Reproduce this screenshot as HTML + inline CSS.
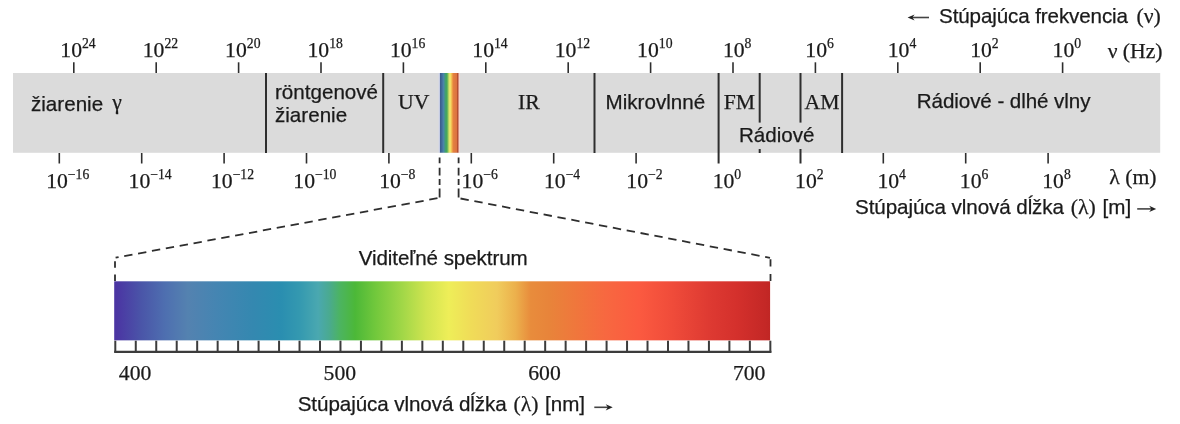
<!DOCTYPE html><html><head><meta charset="utf-8"><title>Elektromagnetické spektrum</title>
<style>html,body{margin:0;padding:0;background:#fff;}svg{display:block}.s{font-family:"Liberation Serif", serif;font-size:21.7px;fill:#1a1a1a;stroke:#1a1a1a;stroke-width:.25px}.a{font-family:"Liberation Sans", sans-serif;font-size:20.6px;fill:#1a1a1a;stroke:#1a1a1a;stroke-width:.25px}.u{font-size:13.7px}text,line,path{filter:blur(.45px)}</style></head><body>
<svg width="1180" height="424" viewBox="0 0 1180 424">
<defs><linearGradient id="g" x1="0" x2="1" y1="0" y2="0">
<stop offset="0.0000" stop-color="#4b34a2"/>
<stop offset="0.0046" stop-color="#4b36a3"/>
<stop offset="0.0412" stop-color="#4a55a8"/>
<stop offset="0.0777" stop-color="#4e6fb0"/>
<stop offset="0.1122" stop-color="#5482b0"/>
<stop offset="0.1549" stop-color="#4585b2"/>
<stop offset="0.2119" stop-color="#3488b0"/>
<stop offset="0.2546" stop-color="#2a8eb0"/>
<stop offset="0.2828" stop-color="#3499b0"/>
<stop offset="0.3110" stop-color="#4aa8b0"/>
<stop offset="0.3277" stop-color="#4aaa90"/>
<stop offset="0.3445" stop-color="#4cb460"/>
<stop offset="0.3674" stop-color="#4cb838"/>
<stop offset="0.3988" stop-color="#72c83c"/>
<stop offset="0.4415" stop-color="#a4d848"/>
<stop offset="0.4756" stop-color="#d0e450"/>
<stop offset="0.5098" stop-color="#eeee58"/>
<stop offset="0.5439" stop-color="#f0dc58"/>
<stop offset="0.5838" stop-color="#f0cc5c"/>
<stop offset="0.6122" stop-color="#ecb04c"/>
<stop offset="0.6349" stop-color="#e88c3c"/>
<stop offset="0.6631" stop-color="#e8843a"/>
<stop offset="0.7058" stop-color="#f0763c"/>
<stop offset="0.7485" stop-color="#f76840"/>
<stop offset="0.8003" stop-color="#fb5a40"/>
<stop offset="0.8491" stop-color="#f04c3a"/>
<stop offset="0.9070" stop-color="#de3a32"/>
<stop offset="0.9497" stop-color="#d4302c"/>
<stop offset="0.9924" stop-color="#c42826"/>
<stop offset="1.0000" stop-color="#c02624"/>
</linearGradient><linearGradient id="r" x1="0" x2="1" y1="0" y2="0"><stop offset="0.0000" stop-color="#3a5888"/><stop offset="0.0860" stop-color="#3f6898"/><stop offset="0.1935" stop-color="#4a84a8"/><stop offset="0.3011" stop-color="#40a070"/><stop offset="0.3817" stop-color="#48a858"/><stop offset="0.4624" stop-color="#b0d060"/><stop offset="0.5323" stop-color="#f0ea70"/><stop offset="0.5968" stop-color="#f4d860"/><stop offset="0.6505" stop-color="#f0a848"/><stop offset="0.7312" stop-color="#e48040"/><stop offset="0.8925" stop-color="#dc7440"/><stop offset="0.9355" stop-color="#b85030"/><stop offset="1.0000" stop-color="#b04830"/></linearGradient></defs>
<rect width="1180" height="424" fill="#fff"/>
<rect x="13" y="73" width="1147.2" height="79.8" fill="#dbdbdb"/>
<rect x="438.6" y="73" width="1.6" height="79.6" fill="#d4d8ec"/>
<rect x="458.3" y="73" width="1.7" height="79.6" fill="#f6d4cc"/>
<rect x="439.9" y="73" width="18.6" height="79.7" fill="url(#r)"/>
<line x1="266.0" y1="73.0" x2="266.0" y2="153.0" stroke="#2e2e2e" stroke-width="2.0"/>
<line x1="383.2" y1="73.0" x2="383.2" y2="153.0" stroke="#2e2e2e" stroke-width="2.0"/>
<line x1="594.5" y1="73.0" x2="594.5" y2="153.0" stroke="#2e2e2e" stroke-width="2.0"/>
<line x1="718.6" y1="73.0" x2="718.6" y2="163.5" stroke="#2e2e2e" stroke-width="2.0"/>
<line x1="759.7" y1="73.0" x2="759.7" y2="122.6" stroke="#2e2e2e" stroke-width="2.0"/>
<line x1="759.7" y1="149.0" x2="759.7" y2="153.0" stroke="#2e2e2e" stroke-width="2.0"/>
<line x1="800.5" y1="73.0" x2="800.5" y2="122.6" stroke="#2e2e2e" stroke-width="2.0"/>
<line x1="800.5" y1="149.0" x2="800.5" y2="163.5" stroke="#2e2e2e" stroke-width="2.0"/>
<line x1="842.1" y1="73.0" x2="842.1" y2="153.0" stroke="#2e2e2e" stroke-width="2.0"/>
<line x1="73.8" y1="62.3" x2="73.8" y2="73.0" stroke="#2e2e2e" stroke-width="1.6"/>
<text class="s" x="78.0" y="56.8" text-anchor="middle">10<tspan class="u" dy="-9.2">24</tspan></text>
<line x1="156.2" y1="62.3" x2="156.2" y2="73.0" stroke="#2e2e2e" stroke-width="1.6"/>
<text class="s" x="160.4" y="56.8" text-anchor="middle">10<tspan class="u" dy="-9.2">22</tspan></text>
<line x1="238.6" y1="62.3" x2="238.6" y2="73.0" stroke="#2e2e2e" stroke-width="1.6"/>
<text class="s" x="242.8" y="56.8" text-anchor="middle">10<tspan class="u" dy="-9.2">20</tspan></text>
<line x1="321.0" y1="62.3" x2="321.0" y2="73.0" stroke="#2e2e2e" stroke-width="1.6"/>
<text class="s" x="325.2" y="56.8" text-anchor="middle">10<tspan class="u" dy="-9.2">18</tspan></text>
<line x1="403.4" y1="62.3" x2="403.4" y2="73.0" stroke="#2e2e2e" stroke-width="1.6"/>
<text class="s" x="407.6" y="56.8" text-anchor="middle">10<tspan class="u" dy="-9.2">16</tspan></text>
<line x1="485.8" y1="62.3" x2="485.8" y2="73.0" stroke="#2e2e2e" stroke-width="1.6"/>
<text class="s" x="490.0" y="56.8" text-anchor="middle">10<tspan class="u" dy="-9.2">14</tspan></text>
<line x1="568.2" y1="62.3" x2="568.2" y2="73.0" stroke="#2e2e2e" stroke-width="1.6"/>
<text class="s" x="572.4" y="56.8" text-anchor="middle">10<tspan class="u" dy="-9.2">12</tspan></text>
<line x1="650.6" y1="62.3" x2="650.6" y2="73.0" stroke="#2e2e2e" stroke-width="1.6"/>
<text class="s" x="654.8" y="56.8" text-anchor="middle">10<tspan class="u" dy="-9.2">10</tspan></text>
<line x1="733.0" y1="62.3" x2="733.0" y2="73.0" stroke="#2e2e2e" stroke-width="1.6"/>
<text class="s" x="737.2" y="56.8" text-anchor="middle">10<tspan class="u" dy="-9.2">8</tspan></text>
<line x1="815.4" y1="62.3" x2="815.4" y2="73.0" stroke="#2e2e2e" stroke-width="1.6"/>
<text class="s" x="819.6" y="56.8" text-anchor="middle">10<tspan class="u" dy="-9.2">6</tspan></text>
<line x1="897.8" y1="62.3" x2="897.8" y2="73.0" stroke="#2e2e2e" stroke-width="1.6"/>
<text class="s" x="902.0" y="56.8" text-anchor="middle">10<tspan class="u" dy="-9.2">4</tspan></text>
<line x1="980.2" y1="62.3" x2="980.2" y2="73.0" stroke="#2e2e2e" stroke-width="1.6"/>
<text class="s" x="984.4" y="56.8" text-anchor="middle">10<tspan class="u" dy="-9.2">2</tspan></text>
<line x1="1062.6" y1="62.3" x2="1062.6" y2="73.0" stroke="#2e2e2e" stroke-width="1.6"/>
<text class="s" x="1066.8" y="56.8" text-anchor="middle">10<tspan class="u" dy="-9.2">0</tspan></text>
<line x1="59.3" y1="153.0" x2="59.3" y2="163.5" stroke="#2e2e2e" stroke-width="1.6"/>
<text class="s" x="67.7" y="188.1" text-anchor="middle">10<tspan class="u" dy="-9.3">−16</tspan></text>
<line x1="141.7" y1="153.0" x2="141.7" y2="163.5" stroke="#2e2e2e" stroke-width="1.6"/>
<text class="s" x="150.1" y="188.1" text-anchor="middle">10<tspan class="u" dy="-9.3">−14</tspan></text>
<line x1="224.1" y1="153.0" x2="224.1" y2="163.5" stroke="#2e2e2e" stroke-width="1.6"/>
<text class="s" x="232.5" y="188.1" text-anchor="middle">10<tspan class="u" dy="-9.3">−12</tspan></text>
<line x1="306.5" y1="153.0" x2="306.5" y2="163.5" stroke="#2e2e2e" stroke-width="1.6"/>
<text class="s" x="314.9" y="188.1" text-anchor="middle">10<tspan class="u" dy="-9.3">−10</tspan></text>
<line x1="388.9" y1="153.0" x2="388.9" y2="163.5" stroke="#2e2e2e" stroke-width="1.6"/>
<text class="s" x="397.3" y="188.1" text-anchor="middle">10<tspan class="u" dy="-9.3">−8</tspan></text>
<line x1="471.3" y1="153.0" x2="471.3" y2="163.5" stroke="#2e2e2e" stroke-width="1.6"/>
<text class="s" x="479.7" y="188.1" text-anchor="middle">10<tspan class="u" dy="-9.3">−6</tspan></text>
<line x1="553.7" y1="153.0" x2="553.7" y2="163.5" stroke="#2e2e2e" stroke-width="1.6"/>
<text class="s" x="562.1" y="188.1" text-anchor="middle">10<tspan class="u" dy="-9.3">−4</tspan></text>
<line x1="636.1" y1="153.0" x2="636.1" y2="163.5" stroke="#2e2e2e" stroke-width="1.6"/>
<text class="s" x="644.5" y="188.1" text-anchor="middle">10<tspan class="u" dy="-9.3">−2</tspan></text>
<text class="s" x="726.9" y="188.1" text-anchor="middle">10<tspan class="u" dy="-9.3">0</tspan></text>
<text class="s" x="809.3" y="188.1" text-anchor="middle">10<tspan class="u" dy="-9.3">2</tspan></text>
<line x1="883.3" y1="153.0" x2="883.3" y2="163.5" stroke="#2e2e2e" stroke-width="1.6"/>
<text class="s" x="891.7" y="188.1" text-anchor="middle">10<tspan class="u" dy="-9.3">4</tspan></text>
<line x1="965.7" y1="153.0" x2="965.7" y2="163.5" stroke="#2e2e2e" stroke-width="1.6"/>
<text class="s" x="974.1" y="188.1" text-anchor="middle">10<tspan class="u" dy="-9.3">6</tspan></text>
<line x1="1048.1" y1="153.0" x2="1048.1" y2="163.5" stroke="#2e2e2e" stroke-width="1.6"/>
<text class="s" x="1056.5" y="188.1" text-anchor="middle">10<tspan class="u" dy="-9.3">8</tspan></text>
<text class="a" x="31" y="111.2">žiarenie</text>
<text class="s" x="112.3" y="109">γ</text>
<text class="a" x="275" y="98.5">röntgenové</text>
<text class="a" x="275" y="121.6">žiarenie</text>
<text class="s" x="398" y="109.3">UV</text>
<text class="s" x="518" y="109.3">IR</text>
<text class="a" x="605.6" y="109.4">Mikrovlnné</text>
<text class="s" x="723.7" y="109">FM</text>
<text class="s" x="804.5" y="109">AM</text>
<text class="a" x="739" y="142">Rádiové</text>
<text class="a" x="916.7" y="107.9" textLength="173.8">Rádiové - dlhé vlny</text>
<text class="a" x="939" y="23.2" textLength="189">Stúpajúca frekvencia</text>
<text class="s" x="1136.5" y="23.2">(ν)</text>
<text class="s" x="1162.6" y="58" text-anchor="end">ν (Hz)</text>
<text class="s" x="1156.5" y="183.8" text-anchor="end">λ (m)</text>
<text class="a" x="855" y="214.2" textLength="209">Stúpajúca vlnová dĺžka</text>
<text class="s" x="1070.8" y="214.2">(λ)</text>
<text class="a" x="1102.5" y="214.2">[m]</text>
<path d="M929.0 17.5 H910.6" stroke="#444" stroke-width="1.6" fill="none"/>
<path d="M907.6 17.5 l7 -3.1 l-2.2 3.1 l2.2 3.1 z" fill="#222"/>
<path d="M1137.2 208.9 H1153.2" stroke="#444" stroke-width="1.6" fill="none"/>
<path d="M1156.2 208.9 l-7 -3.1 l2.2 3.1 l-2.2 3.1 z" fill="#222"/>
<path d="M594.3 407.3 H609.7" stroke="#444" stroke-width="1.6" fill="none"/>
<path d="M612.7 407.3 l-7 -3.1 l2.2 3.1 l-2.2 3.1 z" fill="#222"/>
<path d="M439.6 157.6 V197.6" stroke="#2e2e2e" stroke-width="1.8" fill="none" stroke-dasharray="5.6 4.6 7.6 3.6 6 3.6 9 9"/>
<path d="M458.6 157.6 V197.6" stroke="#2e2e2e" stroke-width="1.8" fill="none" stroke-dasharray="5.6 4.6 7.6 3.6 6 3.6 9 9"/>
<path d="M437.5 198.2 L115.6 257.7" stroke="#2e2e2e" stroke-width="1.8" fill="none" stroke-dasharray="8.4 5.7"/>
<path d="M460.5 198.5 L770 257.8" stroke="#2e2e2e" stroke-width="1.8" fill="none" stroke-dasharray="8.4 5.7"/>
<path d="M115 261.2 V281" stroke="#2e2e2e" stroke-width="1.8" fill="none" stroke-dasharray="6.5 6.8"/>
<path d="M770.5 259.2 V281" stroke="#2e2e2e" stroke-width="1.8" fill="none" stroke-dasharray="7.4 7.4"/>
<rect x="114.2" y="281.3" width="655.9" height="59.2" fill="url(#g)"/>
<text class="a" x="358.7" y="264.8" textLength="169">Viditeľné spektrum</text>
<rect x="114.2" y="340.7" width="656.3" height="11" fill="#fff"/>
<line x1="114.2" y1="351.9" x2="771.4" y2="351.9" stroke="#3c3c3c" stroke-width="2.4"/>
<line x1="115.30" y1="340.7" x2="115.30" y2="352.5" stroke="#3c3c3c" stroke-width="2"/>
<line x1="135.77" y1="340.7" x2="135.77" y2="352.5" stroke="#3c3c3c" stroke-width="2"/>
<line x1="156.24" y1="340.7" x2="156.24" y2="352.5" stroke="#3c3c3c" stroke-width="2"/>
<line x1="176.71" y1="340.7" x2="176.71" y2="352.5" stroke="#3c3c3c" stroke-width="2"/>
<line x1="197.18" y1="340.7" x2="197.18" y2="352.5" stroke="#3c3c3c" stroke-width="2"/>
<line x1="217.65" y1="340.7" x2="217.65" y2="352.5" stroke="#3c3c3c" stroke-width="2"/>
<line x1="238.12" y1="340.7" x2="238.12" y2="352.5" stroke="#3c3c3c" stroke-width="2"/>
<line x1="258.59" y1="340.7" x2="258.59" y2="352.5" stroke="#3c3c3c" stroke-width="2"/>
<line x1="279.06" y1="340.7" x2="279.06" y2="352.5" stroke="#3c3c3c" stroke-width="2"/>
<line x1="299.53" y1="340.7" x2="299.53" y2="352.5" stroke="#3c3c3c" stroke-width="2"/>
<line x1="320.00" y1="340.7" x2="320.00" y2="352.5" stroke="#3c3c3c" stroke-width="2"/>
<line x1="340.47" y1="340.7" x2="340.47" y2="352.5" stroke="#3c3c3c" stroke-width="2"/>
<line x1="360.94" y1="340.7" x2="360.94" y2="352.5" stroke="#3c3c3c" stroke-width="2"/>
<line x1="381.41" y1="340.7" x2="381.41" y2="352.5" stroke="#3c3c3c" stroke-width="2"/>
<line x1="401.88" y1="340.7" x2="401.88" y2="352.5" stroke="#3c3c3c" stroke-width="2"/>
<line x1="422.35" y1="340.7" x2="422.35" y2="352.5" stroke="#3c3c3c" stroke-width="2"/>
<line x1="442.82" y1="340.7" x2="442.82" y2="352.5" stroke="#3c3c3c" stroke-width="2"/>
<line x1="463.29" y1="340.7" x2="463.29" y2="352.5" stroke="#3c3c3c" stroke-width="2"/>
<line x1="483.76" y1="340.7" x2="483.76" y2="352.5" stroke="#3c3c3c" stroke-width="2"/>
<line x1="504.23" y1="340.7" x2="504.23" y2="352.5" stroke="#3c3c3c" stroke-width="2"/>
<line x1="524.70" y1="340.7" x2="524.70" y2="352.5" stroke="#3c3c3c" stroke-width="2"/>
<line x1="545.17" y1="340.7" x2="545.17" y2="352.5" stroke="#3c3c3c" stroke-width="2"/>
<line x1="565.64" y1="340.7" x2="565.64" y2="352.5" stroke="#3c3c3c" stroke-width="2"/>
<line x1="586.11" y1="340.7" x2="586.11" y2="352.5" stroke="#3c3c3c" stroke-width="2"/>
<line x1="606.58" y1="340.7" x2="606.58" y2="352.5" stroke="#3c3c3c" stroke-width="2"/>
<line x1="627.05" y1="340.7" x2="627.05" y2="352.5" stroke="#3c3c3c" stroke-width="2"/>
<line x1="647.52" y1="340.7" x2="647.52" y2="352.5" stroke="#3c3c3c" stroke-width="2"/>
<line x1="667.99" y1="340.7" x2="667.99" y2="352.5" stroke="#3c3c3c" stroke-width="2"/>
<line x1="688.46" y1="340.7" x2="688.46" y2="352.5" stroke="#3c3c3c" stroke-width="2"/>
<line x1="708.93" y1="340.7" x2="708.93" y2="352.5" stroke="#3c3c3c" stroke-width="2"/>
<line x1="729.40" y1="340.7" x2="729.40" y2="352.5" stroke="#3c3c3c" stroke-width="2"/>
<line x1="749.87" y1="340.7" x2="749.87" y2="352.5" stroke="#3c3c3c" stroke-width="2"/>
<line x1="770.34" y1="340.7" x2="770.34" y2="352.5" stroke="#3c3c3c" stroke-width="2"/>
<text class="s" x="135.1" y="380" text-anchor="middle">400</text>
<text class="s" x="339.8" y="380" text-anchor="middle">500</text>
<text class="s" x="544.5" y="380" text-anchor="middle">600</text>
<text class="s" x="749.2" y="380" text-anchor="middle">700</text>
<text class="a" x="297.7" y="411.4" textLength="209">Stúpajúca vlnová dĺžka</text>
<text class="s" x="513.6" y="411.4">(λ)</text>
<text class="a" x="545" y="411.4">[nm]</text>
</svg></body></html>
